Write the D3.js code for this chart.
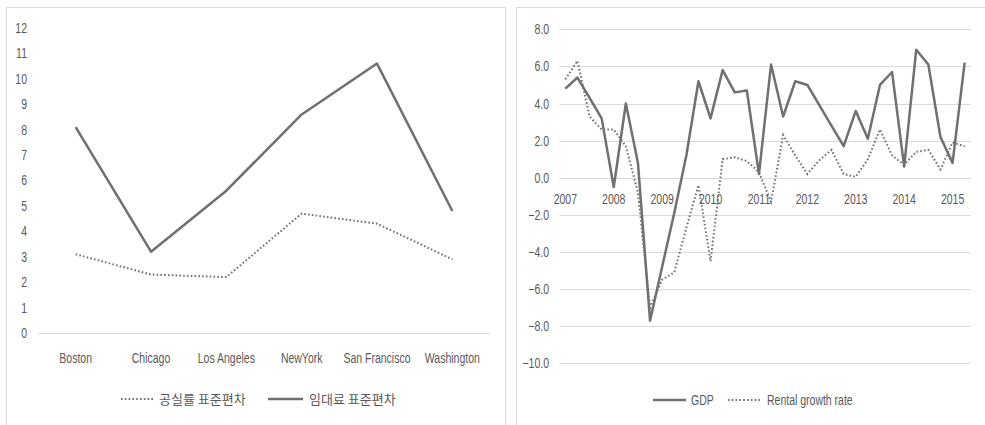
<!DOCTYPE html>
<html>
<head>
<meta charset="utf-8">
<script src="https://cdn.jsdelivr.net/npm/d3@7/dist/d3.min.js"></script>
<style>
  html, body { margin: 0; padding: 0; background: #ffffff; }
  svg { display: block; }
  text { font-family: "Liberation Sans", Arial, sans-serif; fill: #595959; }
  .kr { font-family: "Noto Sans CJK KR", "Noto Sans", sans-serif; }
</style>
</head>
<body>
<svg id="chart" width="985" height="425"></svg>
<script>
// ---- Left panel: standard deviation by city ----
const cities = ["Boston", "Chicago", "Los Angeles", "NewYork", "San Francisco", "Washington"];
const vacancySd = [3.1, 2.3, 2.2, 4.7, 4.3, 2.9];   // 공실률 표준편차
const rentSd = [8.1, 3.2, 5.6, 8.6, 10.6, 4.8];      // 임대료 표준편차
const leftTicks = [0, 1, 2, 3, 4, 5, 6, 7, 8, 9, 10, 11, 12];
const leftLegend = ["공실률 표준편차", "임대료 표준편차"];

// ---- Right panel: quarterly GDP vs rental growth ----
const years = [2007, 2008, 2009, 2010, 2011, 2012, 2013, 2014, 2015];
const quarterCount = 34; // 2007 Q1 .. 2015 Q2
const gdp = [4.8, 5.4, 4.3, 3.2, -0.5, 4.0, 0.8, -7.7, -4.8, -1.9, 1.2, 5.2, 3.2, 5.8, 4.6, 4.7, 0.2,
             6.1, 3.3, 5.2, 5.0, 3.9, 2.8, 1.7, 3.6, 2.1, 5.0, 5.7, 0.6, 6.9, 6.1, 2.2, 0.8, 6.2];
const rental = [5.3, 6.3, 3.3, 2.6, 2.6, 1.7, -0.8, -7.0, -5.5, -5.1, -2.7, -0.4, -4.5, 1.0, 1.1, 0.9, 0.3,
                -1.3, 2.3, 1.2, 0.2, 0.95, 1.5, 0.2, 0.05, 1.0, 2.6, 1.2, 0.7, 1.4, 1.5, 0.45, 1.9, 1.7];
const rightTicks = [8, 6, 4, 2, 0, -2, -4, -6, -8, -10];
const rightLegend = ["GDP", "Rental growth rate"];

const svg = d3.select("#chart");
const lineColor = "#707070";
const gridColor = "#d9d9d9";
const fs = 14;       // label font size
const narrow = 0.75; // condensed look for Latin labels

// squeeze Latin text horizontally about its anchor point
function condense(sel) {
  sel.each(function () {
    const t = d3.select(this);
    const x = +t.attr("x") || 0, y = +t.attr("y") || 0;
    t.attr("x", 0).attr("y", 0)
     .attr("transform", `translate(${x},${y}) scale(${narrow},1)`);
  });
}

// panel frames
svg.append("rect").attr("x", 6.5).attr("y", 7.5).attr("width", 499).attr("height", 430)
  .attr("fill", "none").attr("stroke", gridColor);
svg.append("rect").attr("x", 516.5).attr("y", 7.5).attr("width", 480).attr("height", 430)
  .attr("fill", "none").attr("stroke", gridColor);

// ================= Left panel =================
const L = svg.append("g");
const lx = d3.scaleBand().domain(cities).range([38, 490]);
const ly = d3.scaleLinear().domain([0, 12]).range([333, 28]);
const lxc = d => lx(d) + lx.bandwidth() / 2;

// y labels
const lyAxis = d3.axisLeft(ly).tickValues(leftTicks).tickSize(0).tickPadding(0).tickFormat(d3.format("d"));
L.append("g").attr("transform", "translate(27,0)").call(lyAxis)
  .call(g => g.select(".domain").remove())
  .selectAll("text").attr("font-size", fs).attr("fill", "#595959")
  .style("font-family", "'Liberation Sans', sans-serif")
  .call(condense);

// baseline
L.append("line").attr("x1", 38).attr("x2", 490).attr("y1", ly(0) + 0.5).attr("y2", ly(0) + 0.5)
  .attr("stroke", gridColor).attr("stroke-width", 1);

// category labels
L.selectAll("text.cat").data(cities).join("text").attr("class", "cat")
  .attr("x", d => lxc(d)).attr("y", 363).attr("text-anchor", "middle")
  .attr("font-size", fs).text(d => d)
  .call(condense);

const lLine = d3.line().x((d, i) => lxc(cities[i])).y(d => ly(d));
L.append("path").datum(vacancySd).attr("d", lLine).attr("fill", "none")
  .attr("stroke", lineColor).attr("stroke-width", 2).attr("stroke-dasharray", "1.6,2.2");
L.append("path").datum(rentSd).attr("d", lLine).attr("fill", "none")
  .attr("stroke", lineColor).attr("stroke-width", 2.5).attr("stroke-linejoin", "round");

// left legend
L.append("line").attr("x1", 121).attr("x2", 153).attr("y1", 399).attr("y2", 399)
  .attr("stroke", lineColor).attr("stroke-width", 2).attr("stroke-dasharray", "1.6,2.2");
L.append("text").attr("class", "kr").attr("x", 159).attr("y", 404).attr("font-size", 13).text(leftLegend[0]);
L.append("line").attr("x1", 268).attr("x2", 303).attr("y1", 399).attr("y2", 399)
  .attr("stroke", lineColor).attr("stroke-width", 2.5);
L.append("text").attr("class", "kr").attr("x", 309).attr("y", 404).attr("font-size", 13).text(leftLegend[1]);

// ================= Right panel =================
const R = svg.append("g");
const qIndex = d3.range(quarterCount);
const rx = d3.scaleBand().domain(qIndex).range([559.3, 970.7]);
const ry = d3.scaleLinear().domain([-10, 8]).range([363.3, 29.3]);
const rxc = i => rx(i) + rx.bandwidth() / 2;

// gridlines
R.append("g").selectAll("line").data(rightTicks).join("line")
  .attr("x1", 559.3).attr("x2", 970.7)
  .attr("y1", d => Math.round(ry(d)) + 0.5).attr("y2", d => Math.round(ry(d)) + 0.5)
  .attr("stroke", gridColor).attr("stroke-width", 1.2);

// y labels
const ryAxis = d3.axisLeft(ry).tickValues(rightTicks).tickSize(0).tickPadding(0).tickFormat(d3.format(".1f"));
R.append("g").attr("transform", "translate(549,0)").call(ryAxis)
  .call(g => g.select(".domain").remove())
  .selectAll("text").attr("font-size", fs).attr("fill", "#595959")
  .style("font-family", "'Liberation Sans', sans-serif")
  .call(condense);

// year labels on the first quarter of each year
R.selectAll("text.yr").data(years).join("text").attr("class", "yr")
  .attr("x", (d, k) => rxc(k * 4)).attr("y", 204).attr("text-anchor", "middle")
  .attr("font-size", fs).text(d => d)
  .call(condense);

const rLine = d3.line().x((d, i) => rxc(i)).y(d => ry(d));
R.append("path").datum(rental).attr("d", rLine).attr("fill", "none")
  .attr("stroke", lineColor).attr("stroke-width", 2).attr("stroke-dasharray", "1.6,2.2");
R.append("path").datum(gdp).attr("d", rLine).attr("fill", "none")
  .attr("stroke", lineColor).attr("stroke-width", 2.5).attr("stroke-linejoin", "round");

// right legend
R.append("line").attr("x1", 653).attr("x2", 686).attr("y1", 400).attr("y2", 400)
  .attr("stroke", lineColor).attr("stroke-width", 2.5);
R.append("text").attr("x", 691).attr("y", 405).attr("font-size", fs).text(rightLegend[0]).call(condense);
R.append("line").attr("x1", 728).attr("x2", 762).attr("y1", 400).attr("y2", 400)
  .attr("stroke", lineColor).attr("stroke-width", 2).attr("stroke-dasharray", "1.6,2.2");
R.append("text").attr("x", 767).attr("y", 405).attr("font-size", fs).text(rightLegend[1]).call(condense);
</script>
</body>
</html>
